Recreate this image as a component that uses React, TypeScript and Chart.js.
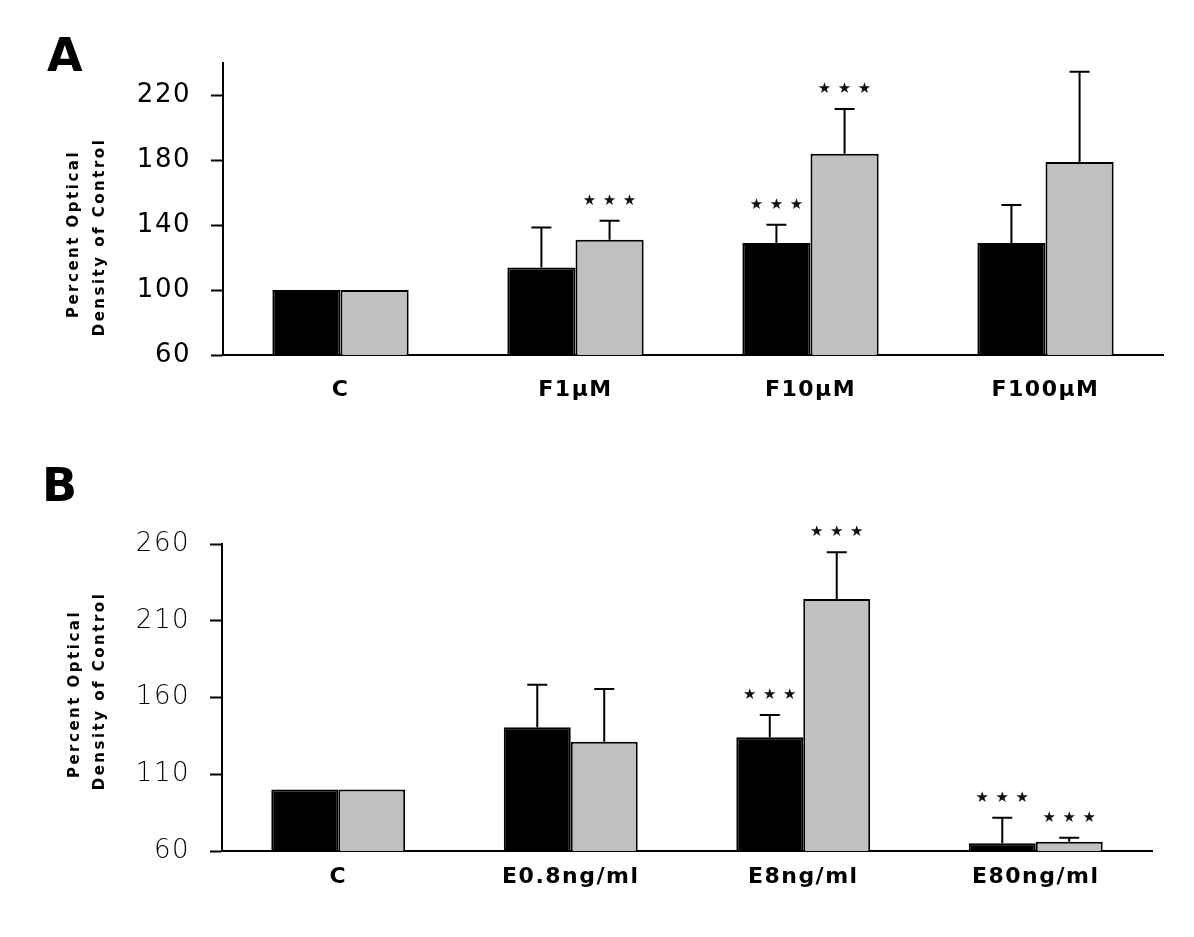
import React, { useEffect, useRef } from 'react';
import { Chart, registerables } from 'chart.js';

Chart.register(...registerables);

// ---------- Panel A data ----------
const categoriesA = ['C', 'F1\u00B5M', 'F10\u00B5M', 'F100\u00B5M'];
const blackA = [100, 114, 129, 129];
const blackErrA = [0, 24.6, 11.3, 23.4];
const grayA = [100, 131, 184, 179];
const grayErrA = [0, 11.7, 27.7, 55.6];
const blackStarsA = [false, false, true, false];
const grayStarsA = [false, true, true, false];
const yTicksA = [60, 100, 140, 180, 220];
const yMinA = 60;
const yMaxA = 240;

// ---------- Panel B data ----------
const categoriesB = ['C', 'E0.8ng/ml', 'E8ng/ml', 'E80ng/ml'];
const blackB = [100, 140.6, 134.1, 65];
const blackErrB = [0, 27.7, 14.5, 16.7];
const grayB = [100, 131.2, 224.2, 66];
const grayErrB = [0, 34.3, 30.4, 2.7];
const blackStarsB = [false, false, true, true];
const grayStarsB = [false, false, true, true];
const yTicksB = [60, 110, 160, 210, 260];
const yMinB = 60;
const yMaxB = 260;

const yTitleLines = ['Percent Optical', 'Density of Control'];
const panelLetters = ['A', 'B'];

const decorPlugin = {
  id: 'decor',
  beforeDraw(chart: any) {
    chart.ctx.letterSpacing = '1.5px';
  },
  afterDatasetsDraw(chart: any, _args: any, opts: any) {
    const ctx = chart.ctx;
    const yScale = chart.scales.y;
    ctx.save();
    ctx.letterSpacing = '0px';
    chart.data.datasets.forEach((ds: any, di: number) => {
      const meta = chart.getDatasetMeta(di);
      meta.data.forEach((bar: any, i: number) => {
        const v = ds.data[i];
        const e = ds.errors[i];
        let topPx = bar.y;
        if (e > 0) {
          topPx = yScale.getPixelForValue(v + e);
          ctx.strokeStyle = '#000';
          ctx.lineWidth = 2;
          ctx.beginPath();
          ctx.moveTo(bar.x, bar.y);
          ctx.lineTo(bar.x, topPx);
          ctx.moveTo(bar.x - 10, topPx);
          ctx.lineTo(bar.x + 10, topPx);
          ctx.stroke();
        }
        if (ds.stars[i]) {
          ctx.fillStyle = '#111';
          ctx.font = '15px "DejaVu Sans"';
          ctx.textAlign = 'center';
          ctx.textBaseline = 'middle';
          const sy = topPx - 20;
          [-20, 0, 20].forEach((dx) => ctx.fillText('\u2605', bar.x + dx, sy));
        }
      });
    });
    // y-axis title (two lines, rotated)
    ctx.fillStyle = '#000';
    ctx.font = 'bold 15px "DejaVu Sans"';
    ctx.letterSpacing = '2.5px';
    ctx.textAlign = 'center';
    ctx.textBaseline = 'middle';
    opts.titlePos.forEach((p: number[], i: number) => {
      ctx.save();
      ctx.translate(p[0], p[1]);
      ctx.rotate(-Math.PI / 2);
      ctx.fillText(yTitleLines[i], 0, 0);
      ctx.restore();
    });
    // panel letter
    ctx.letterSpacing = '0px';
    ctx.font = 'bold 46px "DejaVu Sans"';
    ctx.textAlign = 'left';
    ctx.textBaseline = 'alphabetic';
    ctx.fillText(opts.letter, opts.letterPos[0], opts.letterPos[1]);
    ctx.restore();
  },
};

function makeConfig(p: any) {
  return {
    type: 'bar',
    data: {
      labels: p.categories,
      datasets: [
        {
          data: p.black,
          errors: p.blackErr,
          stars: p.blackStars,
          backgroundColor: '#000000',
          borderColor: '#000000',
          borderWidth: 2,
          categoryPercentage: p.catPct,
          barPercentage: 1,
        },
        {
          data: p.gray,
          errors: p.grayErr,
          stars: p.grayStars,
          backgroundColor: '#c0c0c0',
          borderColor: '#000000',
          borderWidth: 2,
          categoryPercentage: p.catPct,
          barPercentage: 1,
        },
      ],
    },
    options: {
      responsive: false,
      animation: false,
      events: [],
      layout: { padding: { left: 0, right: p.padRight, top: p.padTop, bottom: 0 } },
      plugins: {
        legend: { display: false },
        tooltip: { enabled: false },
        decor: { letter: p.letter, letterPos: p.letterPos, titlePos: p.titlePos },
      },
      scales: {
        x: {
          grid: { display: false, drawTicks: false },
          border: { display: true, color: '#000', width: 2 },
          ticks: {
            color: '#000',
            font: { family: 'DejaVu Sans', weight: 'bold', size: 22 },
            padding: p.xPad,
            maxRotation: 0,
            autoSkip: false,
          },
          afterFit: (s: any) => {
            s.height = p.xHeight;
          },
        },
        y: {
          min: p.yMin,
          max: p.yMax,
          afterBuildTicks: (a: any) => {
            a.ticks = p.yTicks.map((v: number) => ({ value: v }));
          },
          grid: {
            drawOnChartArea: false,
            drawTicks: true,
            tickLength: 12,
            tickWidth: 2,
            tickColor: '#000',
          },
          border: { display: true, color: '#000', width: 2 },
          ticks: {
            color: '#000',
            font: { family: 'DejaVu Sans', weight: p.yWeight, size: 26 },
            padding: 20,
          },
          afterFit: (s: any) => {
            s.width = p.yWidth;
          },
        },
      },
    },
    plugins: [decorPlugin],
  };
}

const panelA = {
  categories: categoriesA,
  black: blackA,
  blackErr: blackErrA,
  blackStars: blackStarsA,
  gray: grayA,
  grayErr: grayErrA,
  grayStars: grayStarsA,
  yTicks: yTicksA,
  yMin: yMinA,
  yMax: yMaxA,
  catPct: 0.58,
  padRight: 31,
  padTop: 63,
  xHeight: 105,
  xPad: 22,
  yWidth: 223,
  yWeight: 'normal',
  letter: panelLetters[0],
  letterPos: [47, 71],
  titlePos: [
    [74, 234],
    [100, 237],
  ],
};

const panelB = {
  categories: categoriesB,
  black: blackB,
  blackErr: blackErrB,
  blackStars: blackStarsB,
  gray: grayB,
  grayErr: grayErrB,
  grayStars: grayStarsB,
  yTicks: yTicksB,
  yMin: yMinB,
  yMax: yMaxB,
  catPct: 0.576,
  padRight: 42,
  padTop: 84,
  xHeight: 86,
  xPad: 13,
  yWidth: 222,
  yWeight: '200',
  letter: panelLetters[1],
  letterPos: [42, 41],
  titlePos: [
    [75, 234],
    [100, 231],
  ],
};

function Panel({ cfg, top, height }: { cfg: any; top: number; height: number }) {
  const ref = useRef<HTMLCanvasElement>(null);
  useEffect(() => {
    const chart = new Chart(ref.current as HTMLCanvasElement, makeConfig(cfg) as any);
    return () => chart.destroy();
  }, [cfg]);
  return (
    <canvas
      ref={ref}
      width={1194}
      height={height}
      style={{ position: 'absolute', left: 0, top, width: 1194, height }}
    />
  );
}

export default function App() {
  return (
    <div
      style={{
        position: 'absolute',
        left: 0,
        top: 0,
        width: 1194,
        height: 937,
        background: '#ffffff',
        overflow: 'hidden',
      }}
    >
      <Panel cfg={panelA} top={0} height={460} />
      <Panel cfg={panelB} top={460} height={477} />
    </div>
  );
}
